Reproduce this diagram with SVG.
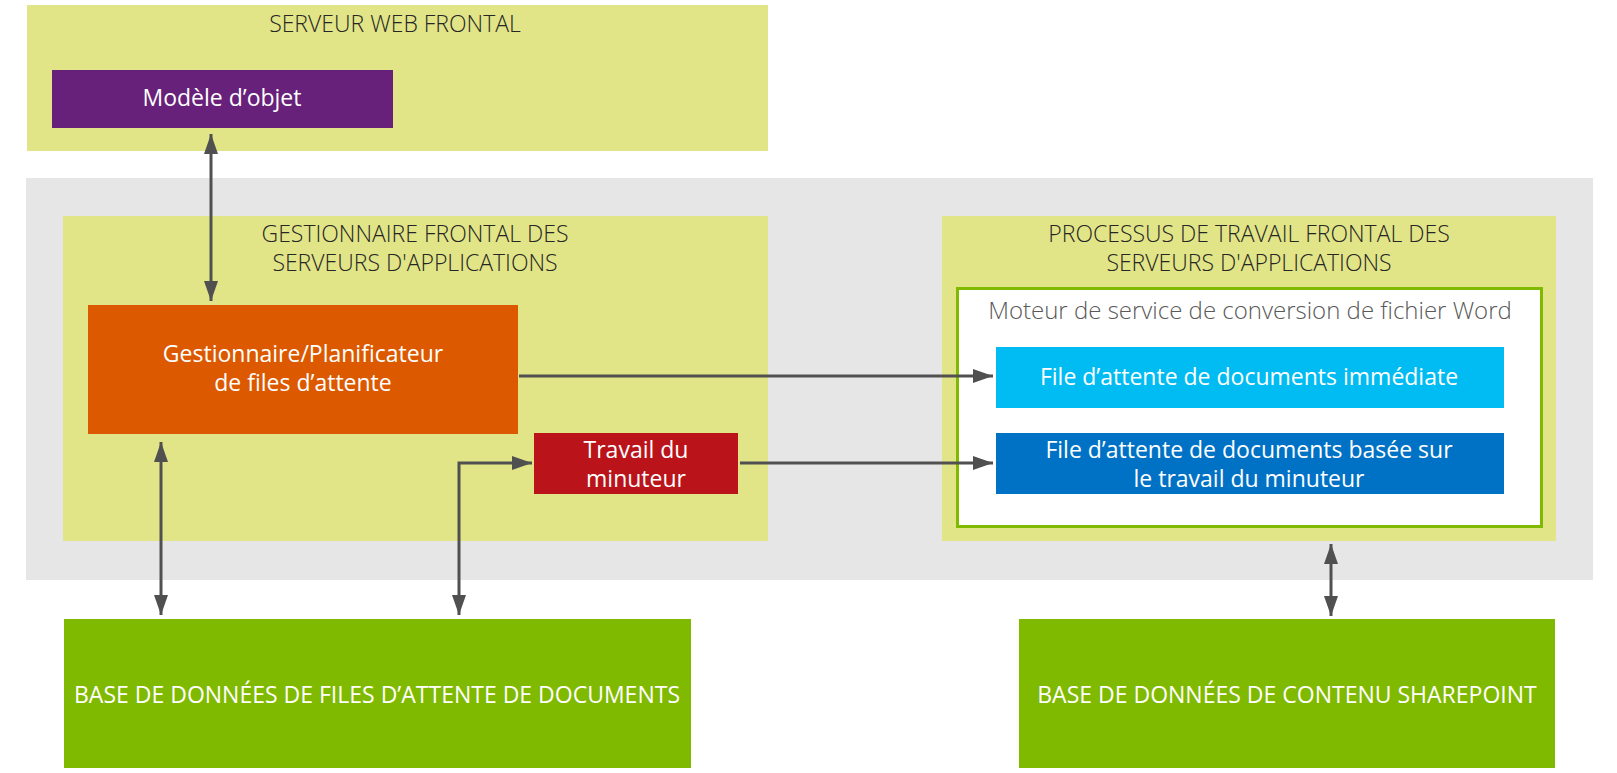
<svg xmlns="http://www.w3.org/2000/svg" width="1617" height="773" viewBox="0 0 1617 773">
<defs>
<style>
text{font-family:"Open Sans","Noto Sans","Liberation Sans",sans-serif;font-weight:300;text-anchor:middle}
.t{fill:#262626;font-size:23px}
.w{fill:#ffffff;font-size:23px;font-weight:400}
.g{fill:#595959;font-size:24px}
.yel{fill:#E1E487}
.c{stroke:#505050;stroke-width:3;fill:none}
</style>
<marker id="ah" markerUnits="userSpaceOnUse" markerWidth="20" markerHeight="14" refX="20" refY="7" orient="auto-start-reverse">
<path d="M0,0 L20,7 L0,14 z" fill="#505050"/>
</marker>
</defs>
<rect width="1617" height="773" fill="#ffffff"/>
<g id="web-frontal">
<rect class="yel" x="27" y="5" width="741" height="146"/>
<text class="t" x="395" y="32">SERVEUR WEB FRONTAL</text>
</g>
<g id="modele-objet">
<rect x="52" y="70" width="341" height="58" fill="#68217A"/>
<text class="w" x="222" y="106">Modèle d’objet</text>
</g>
<g id="ferme">
<rect x="26" y="178" width="1567" height="402" fill="#E6E6E6"/>
</g>
<g id="gestionnaire-frontal">
<rect class="yel" x="63" y="216" width="705" height="325"/>
<text class="t" x="415" y="242">GESTIONNAIRE FRONTAL DES<tspan x="415" dy="29">SERVEURS D'APPLICATIONS</tspan></text>
</g>
<g id="planificateur">
<rect x="88" y="305" width="430" height="129" fill="#DC5900"/>
<text class="w" x="303" y="362">Gestionnaire/Planificateur<tspan x="303" dy="29">de files d’attente</tspan></text>
</g>
<g id="travail-minuteur">
<rect x="534" y="433" width="204" height="61" fill="#BA141A"/>
<text class="w" x="636" y="458">Travail du<tspan x="636" dy="29">minuteur</tspan></text>
</g>
<g id="processus-travail">
<rect class="yel" x="942" y="216" width="614" height="325"/>
<text class="t" x="1249" y="242">PROCESSUS DE TRAVAIL FRONTAL DES<tspan x="1249" dy="29">SERVEURS D'APPLICATIONS</tspan></text>
</g>
<g id="moteur">
<rect x="957.5" y="288.5" width="584" height="238" fill="#ffffff" stroke="#7FBA00" stroke-width="3"/>
<text class="g" x="1250" y="319">Moteur de service de conversion de fichier Word</text>
</g>
<g id="file-immediate">
<rect x="996" y="347" width="508" height="61" fill="#00BCF2"/>
<text class="w" x="1249" y="385">File d’attente de documents immédiate</text>
</g>
<g id="file-minuteur">
<rect x="996" y="433" width="508" height="61" fill="#0072C6"/>
<text class="w" x="1249" y="458">File d’attente de documents basée sur<tspan x="1249" dy="29">le travail du minuteur</tspan></text>
</g>
<g id="bdd-files">
<rect x="64" y="619" width="627" height="149" fill="#7FBA00"/>
<text class="w" x="377" y="703">BASE DE DONNÉES DE FILES D’ATTENTE DE DOCUMENTS</text>
</g>
<g id="bdd-contenu">
<rect x="1019" y="619" width="536" height="149" fill="#7FBA00"/>
<text class="w" x="1287" y="703">BASE DE DONNÉES DE CONTENU SHAREPOINT</text>
</g>
<g id="connecteurs">
<line class="c" x1="211" y1="134" x2="211" y2="301" marker-start="url(#ah)" marker-end="url(#ah)"/>
<line class="c" x1="161" y1="442" x2="161" y2="615" marker-start="url(#ah)" marker-end="url(#ah)"/>
<polyline class="c" points="459,615 459,463 532,463" marker-start="url(#ah)" marker-end="url(#ah)"/>
<line class="c" x1="519" y1="376" x2="993" y2="376" marker-end="url(#ah)"/>
<line class="c" x1="740" y1="463" x2="993" y2="463" marker-end="url(#ah)"/>
<line class="c" x1="1331" y1="544" x2="1331" y2="616" marker-start="url(#ah)" marker-end="url(#ah)"/>
</g>
</svg>
